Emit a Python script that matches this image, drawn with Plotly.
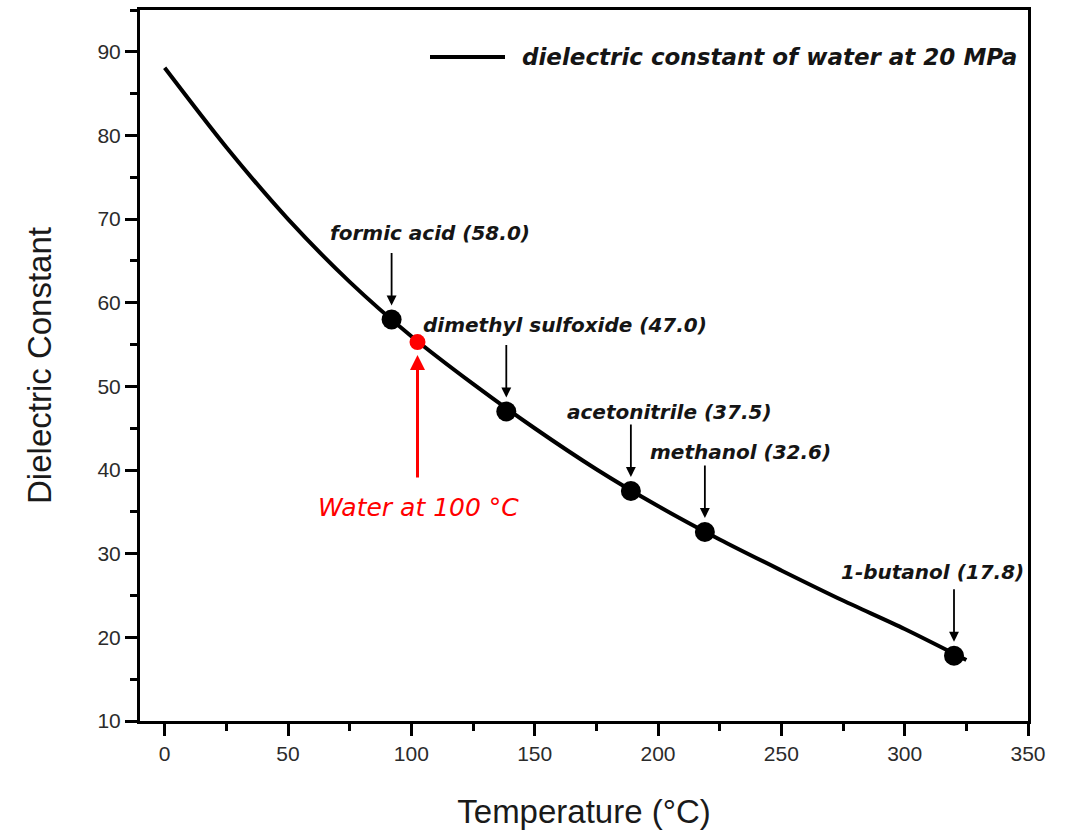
import plotly.graph_objects as go

# Dielectric constant of water at 20 MPa versus temperature
temp_c = [0, 25, 50, 75, 100, 125, 150, 175, 200, 225, 250, 275, 300, 325]
eps_water = [88.1, 78.6, 70.0, 62.5, 56.0, 50.3, 45.0, 40.1, 35.7, 31.7, 28.0, 24.4, 21.0, 17.3]

# Solvents whose dielectric constant water reaches at a given temperature
solvents = ["formic acid", "dimethyl sulfoxide", "acetonitrile", "methanol", "1-butanol"]
solvent_temp = [92, 138.5, 189, 219, 320]
solvent_eps = [58.0, 47.0, 37.5, 32.6, 17.8]
# label centres (temperature, dielectric constant)
label_temp = [107.6, 162.3, 204.8, 233.6, 311.4]
label_eps = [68.4, 57.4, 47.0, 42.2, 27.8]

water_temp = 102.5
water_eps = 55.3

FONT = "Arial, 'Liberation Sans', sans-serif"
WIDE = "'DejaVu Sans', sans-serif"
TXT = "#151515"

fig = go.Figure()

fig.add_trace(go.Scatter(
    x=temp_c, y=eps_water, mode="lines",
    line=dict(color="black", width=4, shape="spline", smoothing=0.8),
    showlegend=False, hoverinfo="skip",
))

fig.add_trace(go.Scatter(
    x=solvent_temp, y=solvent_eps, mode="markers",
    marker=dict(color="black", size=20),
    showlegend=False, hoverinfo="skip",
))

fig.add_trace(go.Scatter(
    x=[water_temp], y=[water_eps], mode="markers",
    marker=dict(color="#ff0000", size=16),
    showlegend=False, hoverinfo="skip",
))

annotations = []
for name, t, e, lt, le in zip(solvents, solvent_temp, solvent_eps, label_temp, label_eps):
    # downward arrow pointing at the solvent's marker
    annotations.append(dict(
        x=t, y=e, xref="x", yref="y", ax=0, ay=-68,
        showarrow=True, arrowhead=2, arrowsize=1.1, arrowwidth=1.8,
        arrowcolor="black", standoff=14, text="",
    ))
    annotations.append(dict(
        x=lt, y=le, xref="x", yref="y", showarrow=False,
        text=f"<b><i>{name} ({e:.1f})</i></b>",
        font=dict(family=WIDE, size=20, color=TXT),
        xanchor="center", yanchor="middle",
    ))

# red arrow and caption for water at 100 °C
annotations.append(dict(
    x=water_temp, y=water_eps, xref="x", yref="y", ax=0, ay=137,
    showarrow=True, arrowhead=2, arrowsize=1.0, arrowwidth=3,
    arrowcolor="#ff0000", standoff=13, text="",
))
annotations.append(dict(
    x=103.1, y=35.5, xref="x", yref="y", showarrow=False,
    text="<i>Water at 100 °C</i>",
    font=dict(family=WIDE, size=25, color="#ff0000"),
    xanchor="center", yanchor="middle",
))

# legend-style key in the upper right
annotations.append(dict(
    x=(520 - 140) / 888, y=(721 - 57) / 711, xref="paper", yref="paper",
    showarrow=False, text="<b><i>dielectric constant of water at 20 MPa</i></b>",
    font=dict(family=WIDE, size=23, color=TXT),
    xanchor="left", yanchor="middle",
))

fig.update_layout(
    width=1071, height=832,
    margin=dict(l=140, r=43, t=10, b=111),
    paper_bgcolor="white", plot_bgcolor="white",
    font=dict(family=FONT, color="#2b2b2b"),
    annotations=annotations,
    shapes=[dict(
        type="line", xref="paper", yref="paper",
        x0=(430 - 140) / 888, x1=(505 - 140) / 888,
        y0=(721 - 57) / 711, y1=(721 - 57) / 711,
        line=dict(color="black", width=4),
    )],
)

fig.update_xaxes(
    range=[-10, 350], tickvals=[0, 50, 100, 150, 200, 250, 300, 350],
    showline=True, linecolor="black", linewidth=3, mirror=True,
    ticks="outside", ticklen=12, tickwidth=3, tickcolor="black",
    minor=dict(dtick=25, tick0=0, ticks="outside", ticklen=7, tickwidth=3, tickcolor="black"),
    showgrid=False, zeroline=False, automargin=False,
    tickfont=dict(family=FONT, size=21, color="#2b2b2b"),
    title=dict(text="Temperature (°C)", font=dict(family=FONT, size=33, color="#1a1a1a"), standoff=36),
)
fig.update_yaxes(
    range=[10, 95], tickvals=[10, 20, 30, 40, 50, 60, 70, 80, 90],
    showline=True, linecolor="black", linewidth=3, mirror=True,
    ticks="outside", ticklen=12, tickwidth=3, tickcolor="black",
    minor=dict(dtick=5, tick0=0, ticks="outside", ticklen=7, tickwidth=3, tickcolor="black"),
    showgrid=False, zeroline=False, automargin=False,
    tickfont=dict(family=FONT, size=21, color="#2b2b2b"),
    title=dict(text="Dielectric Constant", font=dict(family=FONT, size=33, color="#1a1a1a"), standoff=36),
)

fig.write_html("out.html")
